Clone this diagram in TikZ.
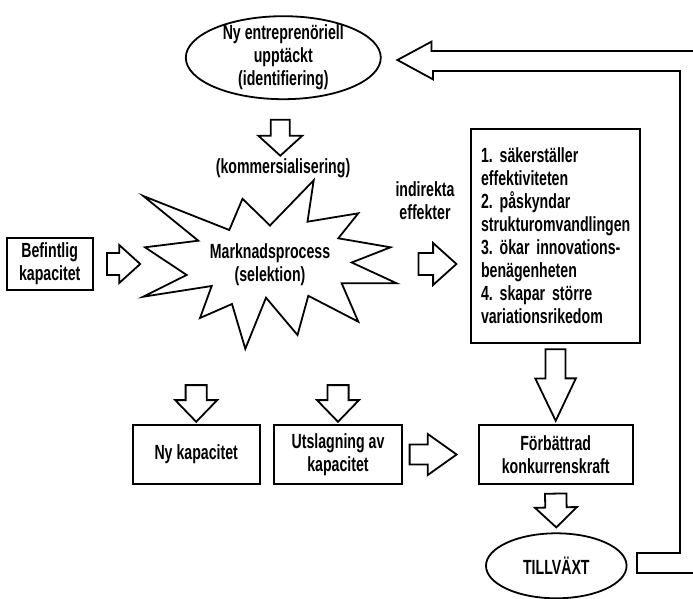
\documentclass[tikz,border=0pt]{standalone}
\usepackage{fontspec}
\setmainfont{Liberation Sans}[FakeStretch=0.69]
\usetikzlibrary{shapes.geometric,calc}
\frenchspacing

% 中抜きの太い矢印: 始点, 終点, 軸の半幅, 頭の半幅, 頭の長さ
\newcommand{\fatarrow}[5]{%
  \coordinate (hb) at ($(#2)!#5!(#1)$);
  \draw[thickline] ($(#1)!#3!90:(#2)$) -- ($(hb)!#3!-90:(#1)$) -- ($(hb)!#4!-90:(#1)$)
    -- (#2) -- ($(hb)!#4!90:(#1)$) -- ($(hb)!#3!90:(#1)$) -- ($(#1)!#3!-90:(#2)$) -- cycle;
}

\begin{document}
\begin{tikzpicture}[x=1pt, y=-1pt,
    thickline/.style={line width=1.8pt, line join=miter, miter limit=20},
    txt/.style={font=\bfseries\fontsize{20.5}{23}\selectfont, align=center},
    box/.style={txt, draw, line width=1.8pt, inner sep=0pt},
    oval/.style={ellipse, draw, line width=1.8pt, inner sep=0pt}]
    \useasboundingbox (0,0) rectangle (693,599);

    % ノードの定義
    \node[oval, minimum width=195pt, minimum height=83pt,
          label={[txt]center:Ny entreprenöriell\\upptäckt\\(identifiering)}] (upptackt) at (283.3,57.7) {};
    \node[txt] (kommers) at (283,168) {(kommersialisering)};
    \node[txt] (mark) at (270,264.5) {Marknadsprocess\\(selektion)};
    \node[box, minimum width=86pt, minimum height=52pt] (befintlig) at (49.7,264) {Befintlig\\kapacitet};
    \node[txt] (indirekta) at (425,201) {indirekta\\effekter};
    \node[box, align=left, text width=149pt, minimum height=214pt, inner xsep=10pt] (effekt) at (555.5,236)
        {1. säkerställer\\effektiviteten\\2. påskyndar\\strukturomvandlingen\\3. ökar innovations-\\benägenheten\\4. skapar större\\variationsrikedom};
    \node[box, minimum width=127pt, minimum height=59pt] (nykap) at (196.2,454.5) {Ny kapacitet};
    \node[box, minimum width=128pt, minimum height=59pt] (utslag) at (338,454.5) {Utslagning av\\kapacitet};
    \node[box, minimum width=154pt, minimum height=59pt] (forbattrad) at (555.7,454.5) {Förbättrad\\konkurrenskraft};
    \node[oval, txt, minimum width=140.6pt, minimum height=65pt] (tillvaxt) at (556.3,565.8) {TILLVÄXT};

    % 市場プロセスの星形
    \draw[thickline] (143.3,196) -- (229.3,230) -- (242.5,198.8) -- (270,225.5) -- (313.7,180.3)
        -- (307.5,221.7) -- (358.3,213.3) -- (338.3,238.3) -- (390.5,247.3) -- (351.7,262.5)
        -- (396.7,283.3) -- (341.7,283.3) -- (358.3,321.7) -- (308.3,295.8) -- (297.5,335)
        -- (266,297.7) -- (245.3,348.8) -- (232,304) -- (200,318) -- (211.7,286)
        -- (143.3,296.7) -- (186.7,275) -- (145,247.3) -- (198.3,240.7) -- cycle;

    % 矢印の端点
    \coordinate (a1s) at ([xshift=-3pt,yshift=-19.6pt]upptackt.south);
    \coordinate (a1e) at ([xshift=-3pt,yshift=-55.6pt]upptackt.south);
    \coordinate (a2s) at ([xshift=13.3pt]befintlig.east);
    \coordinate (a2e) at ([xshift=46.6pt]befintlig.east);
    \coordinate (a3s) at ([xshift=-51.7pt,yshift=-28pt]effekt.west);
    \coordinate (a3e) at ([xshift=-13.7pt,yshift=-28pt]effekt.west);
    \coordinate (a4s) at ([yshift=-5.3pt]effekt.south);
    \coordinate (a4e) at ([yshift=3.3pt]forbattrad.north);
    \coordinate (a5s) at ([yshift=39pt]nykap.north);
    \coordinate (a5e) at ([yshift=2.3pt]nykap.north);
    \coordinate (a6s) at ([yshift=39pt]utslag.north);
    \coordinate (a6e) at ([yshift=2.3pt]utslag.north);
    \coordinate (a7s) at ([xshift=6.7pt]utslag.east);
    \coordinate (a7e) at ([xshift=-21.2pt]forbattrad.west);
    \coordinate (a8s) at ([yshift=-8.7pt]forbattrad.south);
    \coordinate (a8e) at ([yshift=5pt]tillvaxt.north);
    \coordinate (fbtail) at ([xshift=9.4pt,yshift=2.8pt]tillvaxt.east);
    \coordinate (fbtip) at ([xshift=15.7pt,yshift=-2.3pt]upptackt.east);

    % 矢印
    \fatarrow{a1s}{a1e}{9.5pt}{22pt}{20pt}
    \fatarrow{a2s}{a2e}{11pt}{19pt}{21pt}
    \fatarrow{a3s}{a3e}{11pt}{21pt}{23.3pt}
    \fatarrow{a4s}{a4e}{10pt}{20.3pt}{42.4pt}
    \fatarrow{a5s}{a5e}{10.6pt}{21pt}{21.7pt}
    \fatarrow{a6s}{a6e}{10.6pt}{21pt}{21.7pt}
    \fatarrow{a7s}{a7e}{10pt}{20.5pt}{28.8pt}
    \fatarrow{a8s}{a8e}{10.7pt}{21pt}{20pt}

    % 成長から発見へ戻る矢印
    \draw[thickline] (fbtail) ++(64,10) -- ++(-64,0) -- ++(0,-20) -- ++(43,0) -- ++(0,-482)
        -- ++(-247,0) -- ++(0,8.3) -- (fbtip) -- ++(34,-18.3) -- ++(0,9.3) -- ++(269,0);
\end{tikzpicture}
\end{document}
